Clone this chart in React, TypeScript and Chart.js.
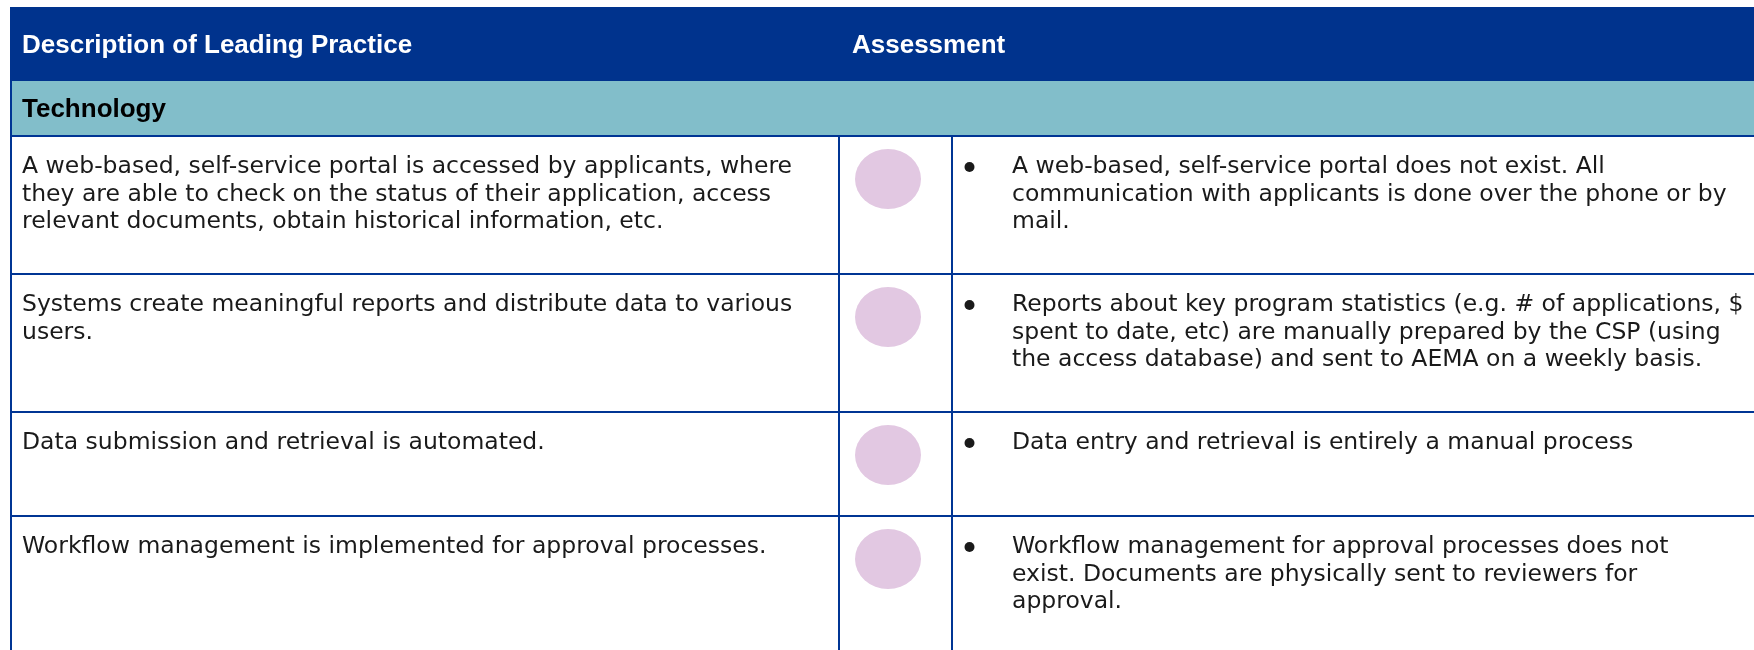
import React, { useEffect, useRef } from "react";
import { Chart, registerables } from "chart.js";

Chart.register(...registerables);

// ---------- data ----------
const HEADERS = ["Description of Leading Practice", "Assessment"];
const SECTION = "Technology";
const PRACTICES: string[][] = [
  [
    "A web-based, self-service portal is accessed by applicants, where",
    "they are able to check on the status of their application, access",
    "relevant documents, obtain historical information, etc.",
  ],
  ["Systems create meaningful reports and distribute data to various", "users."],
  ["Data submission and retrieval is automated."],
  ["Workflow management is implemented for approval processes."],
];
const FINDINGS: string[][] = [
  [
    "A web-based, self-service portal does not exist. All",
    "communication with applicants is done over the phone or by",
    "mail.",
  ],
  [
    "Reports about key program statistics (e.g. # of applications, $",
    "spent to date, etc) are manually prepared by the CSP (using",
    "the access database) and sent to AEMA on a weekly basis.",
  ],
  ["Data entry and retrieval is entirely a manual process"],
  [
    "Workflow management for approval processes does not",
    "exist. Documents are physically sent to reviewers for",
    "approval.",
  ],
];
const RATINGS = [1, 1, 1, 1];

// ---------- layout & style ----------
const W = 1754;
const H = 650;
const L = {
  left: 10,
  top: 7,
  headerH: 74,
  sectionH: 55,
  col1: 839,
  col2: 952,
  textX: 22,
  assessX: 852,
  lineH: 27.5,
  rowPad: 28,
  minRowH: 104,
  baseOff: 37,
  bulletOff: 31,
  circleOff: 43,
  circleX: 888,
  bulletX: 969.5,
  findingX: 1012,
};
const COLORS = {
  header: "#00338D",
  section: "#82BECA",
  line: "#003594",
  circle: "#E2C8E2",
  text: "#1A1A1A",
};
const HEAD_FONT = '"Liberation Sans", Arial, sans-serif';
const BODY_FONT = '"DejaVu Sans", Verdana, sans-serif';
const BODY_SIZE = 23.5;
const HEAD_SIZE = 26;

function rowTops(): { tops: number[]; heights: number[] } {
  const heights = PRACTICES.map((p, i) =>
    Math.max(L.minRowH, L.rowPad + (Math.max(p.length, FINDINGS[i].length) + 1) * L.lineH)
  );
  const tops: number[] = [];
  let y = L.top + L.headerH + L.sectionH;
  heights.forEach((h) => {
    tops.push(y);
    y += h;
  });
  return { tops, heights };
}

function makeEllipse(w: number, h: number, color: string): HTMLCanvasElement {
  const c = document.createElement("canvas");
  c.width = w;
  c.height = h;
  const g = c.getContext("2d")!;
  g.fillStyle = color;
  g.beginPath();
  g.ellipse(w / 2, h / 2, w / 2, h / 2, 0, 0, Math.PI * 2);
  g.fill();
  return c;
}

const tablePlugin = {
  id: "tablePlugin",
  beforeDatasetsDraw(chart: any) {
    const ctx: CanvasRenderingContext2D = chart.ctx;
    const xs = chart.scales.x;
    const ys = chart.scales.y;
    const px = (v: number) => xs.getPixelForValue(v);
    const py = (v: number) => ys.getPixelForValue(v);
    const { tops } = rowTops();
    ctx.save();

    // header band
    ctx.fillStyle = COLORS.header;
    ctx.fillRect(px(L.left), py(L.top), px(W) - px(L.left), py(L.top + L.headerH) - py(L.top));
    // section band
    ctx.fillStyle = COLORS.section;
    ctx.fillRect(
      px(L.left),
      py(L.top + L.headerH),
      px(W) - px(L.left),
      py(L.top + L.headerH + L.sectionH) - py(L.top + L.headerH)
    );

    // header text
    ctx.textBaseline = "alphabetic";
    ctx.textAlign = "left";
    ctx.font = `bold ${HEAD_SIZE}px ${HEAD_FONT}`;
    ctx.fillStyle = "#FFFFFF";
    ctx.fillText(HEADERS[0], px(L.textX), py(L.top + 46));
    ctx.fillText(HEADERS[1], px(L.assessX), py(L.top + 46));
    ctx.fillStyle = "#000000";
    ctx.fillText(SECTION, px(L.textX), py(L.top + L.headerH + 36));

    // grid lines
    ctx.strokeStyle = COLORS.line;
    ctx.lineWidth = 2;
    ctx.beginPath();
    tops.forEach((t) => {
      ctx.moveTo(px(L.left), py(t));
      ctx.lineTo(px(W), py(t));
    });
    ctx.moveTo(px(L.left + 1), py(L.top + L.headerH));
    ctx.lineTo(px(L.left + 1), py(H));
    ctx.moveTo(px(L.col1), py(tops[0]));
    ctx.lineTo(px(L.col1), py(H));
    ctx.moveTo(px(L.col2), py(tops[0]));
    ctx.lineTo(px(L.col2), py(H));
    ctx.stroke();

    // body text
    ctx.font = `${BODY_SIZE}px ${BODY_FONT}`;
    ctx.fillStyle = COLORS.text;
    PRACTICES.forEach((lines, i) => {
      lines.forEach((s, k) => {
        ctx.fillText(s, px(L.textX), py(tops[i] + L.baseOff + k * L.lineH));
      });
    });
    FINDINGS.forEach((lines, i) => {
      ctx.beginPath();
      ctx.arc(px(L.bulletX), py(tops[i] + L.bulletOff), 5, 0, Math.PI * 2);
      ctx.fill();
      lines.forEach((s, k) => {
        ctx.fillText(s, px(L.findingX), py(tops[i] + L.baseOff + k * L.lineH));
      });
    });
    ctx.restore();
  },
};

export default function App() {
  const ref = useRef<HTMLCanvasElement>(null);
  useEffect(() => {
    if (!ref.current) return;
    const { tops } = rowTops();
    const ellipse = makeEllipse(66, 60, COLORS.circle);
    const chart = new Chart(ref.current, {
      type: "scatter",
      data: {
        datasets: [
          {
            label: "Assessment",
            data: RATINGS.map((r, i) => ({ x: L.circleX, y: tops[i] + L.circleOff, r })).filter(
              (d) => d.r > 0
            ),
            pointStyle: ellipse as any,
            pointRadius: 30,
            backgroundColor: COLORS.circle,
            borderWidth: 0,
            clip: false as any,
          },
        ],
      },
      options: {
        animation: false,
        responsive: false,
        devicePixelRatio: 1,
        layout: { padding: 0, autoPadding: false } as any,
        events: [],
        scales: {
          x: { type: "linear", min: 0, max: W, display: false },
          y: { type: "linear", min: 0, max: H, reverse: true, display: false },
        },
        plugins: { legend: { display: false }, tooltip: { enabled: false } },
      },
      plugins: [tablePlugin],
    });
    return () => chart.destroy();
  }, []);
  return (
    <div style={{ position: "fixed", left: 0, top: 0, width: W, height: H, background: "#FFFFFF" }}>
      <canvas ref={ref} width={W} height={H} style={{ display: "block", width: W, height: H }} />
    </div>
  );
}
